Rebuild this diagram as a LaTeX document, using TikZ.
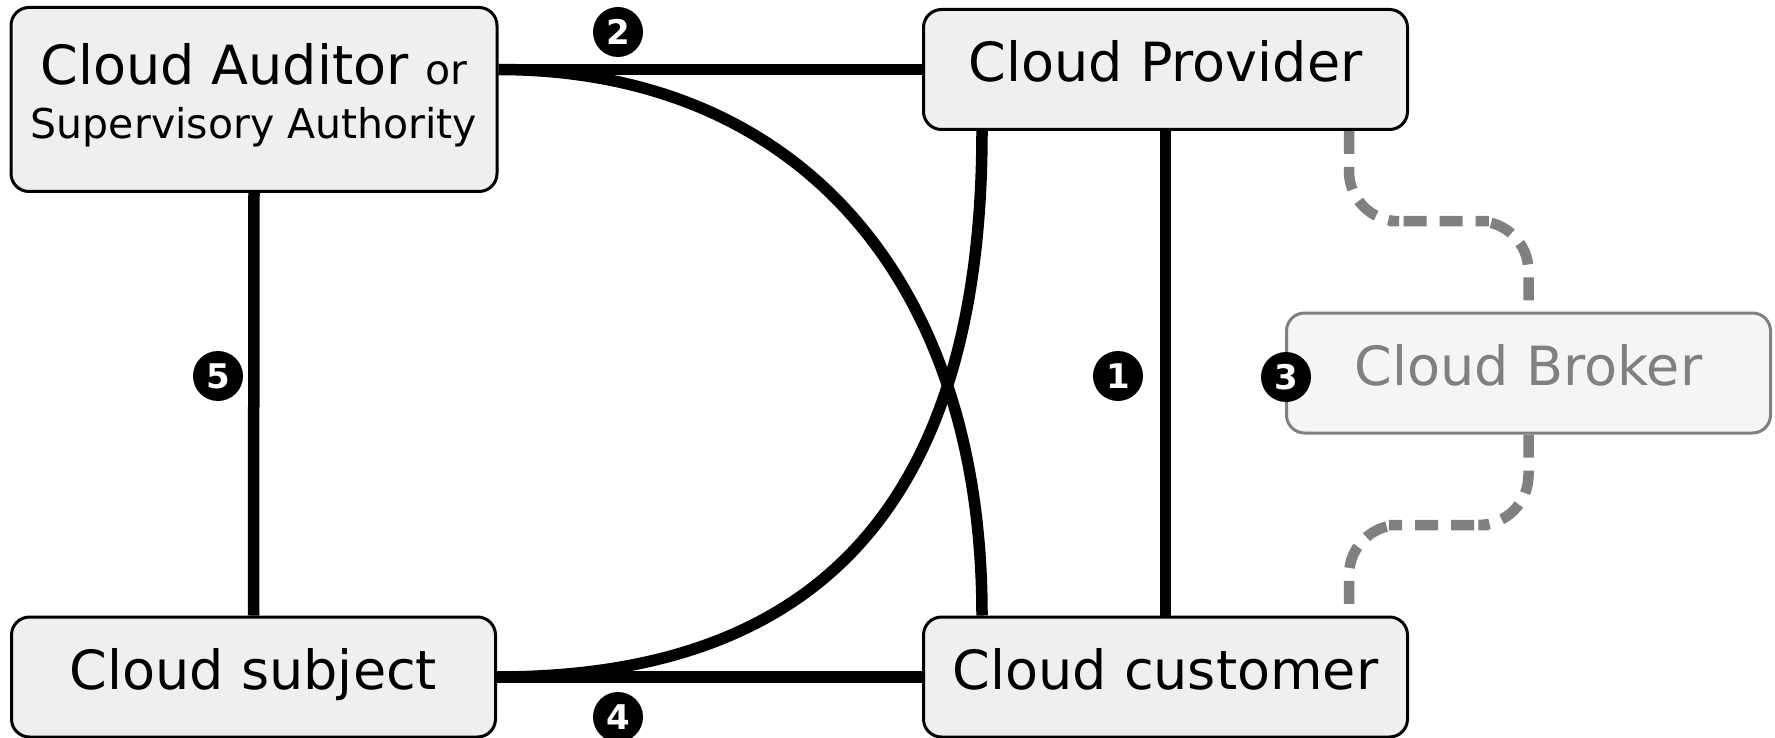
\documentclass[tikz,border=0pt]{standalone}
\usepackage{fontspec}
\setmainfont{DejaVu Sans}
\usetikzlibrary{calc,backgrounds}

\definecolor{boxfill}{HTML}{EFEFEF}
\definecolor{brokerfill}{HTML}{F5F5F5}
\definecolor{brokergray}{HTML}{808080}

\tikzset{
  party/.style={draw=black, line width=3pt, fill=boxfill, rounded corners=18pt,
    inner sep=0pt, minimum width=484pt, minimum height=120pt,
    font=\fontsize{54}{60}\selectfont, text height=40pt, text depth=15pt},
  broker/.style={party, draw=brokergray, fill=brokerfill, text=brokergray},
  link/.style={line width=11.5pt, black},
  brokerlink/.style={line width=10.5pt, brokergray, dash pattern=on 23pt off 13pt,
    rounded corners=50pt},
  badge/.style={circle, fill=black, text=white, inner sep=0pt, minimum size=50pt,
    font=\fontsize{34}{34}\bfseries\selectfont}
}

\begin{document}
\begin{tikzpicture}[x=1pt, y=-1pt]
  \useasboundingbox (0,0) rectangle (1775,738);

  % the parties
  \node[party, minimum height=184pt, minimum width=486pt] (aud) at (254,99.5) {};
  \node[anchor=base, font=\fontsize{54}{60}\selectfont] (audtop) at (254,85)
    {Cloud Auditor {\fontsize{41}{48}\selectfont or}};
  \node[anchor=base, font=\fontsize{41}{48}\selectfont] (audbot) at (254,139)
    {Supervisory Authority};
  \node[party] (prov) at (1165.5,69.5) {Cloud Provider};
  \node[party] (subj) at (253.5,677) {Cloud subject};
  \node[party] (cust) at (1165.5,677) {Cloud customer};
  \node[broker] (brok) at (1528.5,373) {Cloud Broker};

  % relations between the parties
  \begin{scope}[on background layer]
    \draw[link] (aud.east |- prov.west) -- (prov.west);
    \draw[link] (subj.east) -- (cust.west);
    \draw[link] (aud.south) -- (subj.north);
    \draw[link] (prov.south) -- (cust.north);
    \draw[link] (aud.east |- prov.west)
      .. controls +(300,0) and +(0,-335) .. ([xshift=60pt]cust.north west);
    \draw[link] ([xshift=60pt]prov.south west)
      .. controls +(0,395) and +(300,0) .. (subj.east);

    \coordinate (provb) at ([xshift=-60pt]prov.south east);
    \coordinate (custb) at ([xshift=-60pt]cust.north east);
    \draw[brokerlink] (provb) |- ($(provb)!0.5!(brok.north)$) -| (brok.north);
    \draw[brokerlink] (brok.south) |- ($(brok.south)!0.5!(custb)$) -| (custb);
  \end{scope}

  % numbered markers
  \node[badge] (n1) at (1118,376) {1};
  \node[badge] (n2) at (618,32) {2};
  \node[badge] (n3) at (1286,377) {3};
  \node[badge] (n4) at (618,717) {4};
  \node[badge] (n5) at (218,376) {5};
\end{tikzpicture}
\end{document}
